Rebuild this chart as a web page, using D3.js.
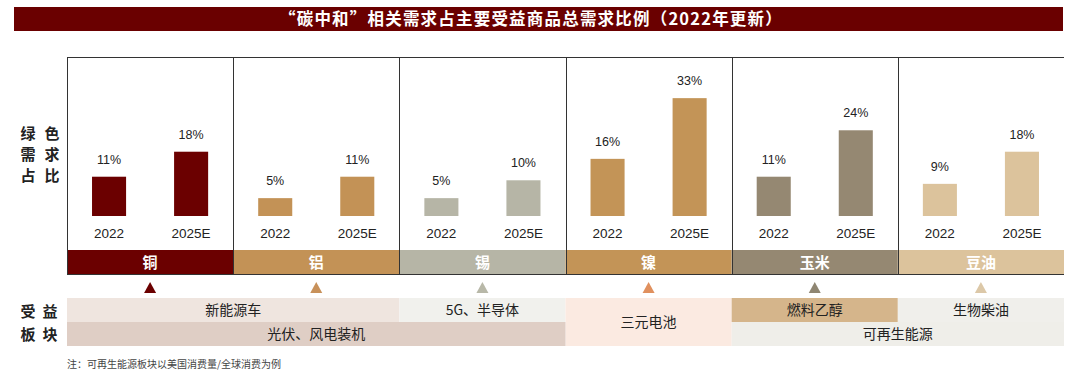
<!DOCTYPE html>
<html>
<head>
<meta charset="utf-8">
<script src="https://cdnjs.cloudflare.com/ajax/libs/d3/7.8.5/d3.min.js"></script>
<style>
  body { margin: 0; background: #fff; }
  text { font-family: "Noto Sans CJK SC", "Noto Sans", sans-serif; }
  .num { font-family: "Liberation Sans", Arial, sans-serif; }
</style>
</head>
<body>
<script>
// data
var commodities = ["铜", "铝", "锡", "镍", "玉米", "豆油"];
var years = ["2022", "2025E"];
var share2022 = [11, 5, 5, 16, 11, 9];
var share2025 = [18, 11, 10, 33, 24, 18];
var barColors = ["#6b0000", "#c39256", "#b6b5a6", "#c39457", "#958872", "#dcc39c"];
var arrowColors = ["#6b0000", "#c8915a", "#b8b8a8", "#e0905e", "#8f8672", "#dcc8a8"];
// sectors: label, first commodity, last commodity, row(s)
var sectorNames = ["新能源车", "5G、半导体", "三元电池", "燃料乙醇", "生物柴油", "光伏、风电装机", "可再生能源"];
var sectorFrom = ["铜", "锡", "镍", "玉米", "豆油", "铜", "玉米"];
var sectorTo = ["铝", "锡", "镍", "玉米", "豆油", "锡", "豆油"];
var sectorRowFrom = ["r1", "r1", "r1", "r1", "r1", "r2", "r2"];
var sectorRowTo = ["r1", "r1", "r2", "r1", "r1", "r2", "r2"];
var sectorFill = ["#efe5df", "#f1f1ed", "#fbeae1", "#d5b58b", "#f0efeb", "#dfcec5", "#efeee9"];

var W = 1080, H = 371;
var svg = d3.select("body").append("svg").attr("width", W).attr("height", H);

var x = d3.scaleBand().domain(commodities).range([67, 1064]);
var xi = d3.scaleBand().domain(years).range([0, x.bandwidth()]).paddingInner(0.585).paddingOuter(0.305);
var y = d3.scaleLinear().domain([0, 35]).range([216, 91]);
var rows = d3.scaleBand().domain(["r1", "r2"]).range([298, 346]);

// title bar
svg.append("rect").attr("x", 14).attr("y", 7).attr("width", 1049).attr("height", 24).attr("fill", "#6a0000");
svg.append("text").attr("x", 531).attr("y", 25).attr("text-anchor", "middle")
  .attr("fill", "#fff").attr("font-size", 16.5).attr("font-weight", 700).attr("letter-spacing", 1.2)
  .text("“碳中和”相关需求占主要受益商品总需求比例（2022年更新）");

// left labels
var leftA = [["绿", "色"], ["需", "求"], ["占", "比"]];
leftA.forEach(function (r, i) {
  r.forEach(function (c, j) {
    svg.append("text").attr("x", 28 + j * 24).attr("y", 139 + i * 21).attr("text-anchor", "middle")
      .attr("font-size", 15).attr("font-weight", 700).attr("fill", "#222").text(c);
  });
});
var leftB = [["受", "益"], ["板", "块"]];
leftB.forEach(function (r, i) {
  r.forEach(function (c, j) {
    svg.append("text").attr("x", 28 + j * 22).attr("y", 317 + i * 23).attr("text-anchor", "middle")
      .attr("font-size", 15).attr("font-weight", 700).attr("fill", "#222").text(c);
  });
});

// bars per commodity
var panel = svg.selectAll("g.panel").data(commodities).enter().append("g")
  .attr("class", "panel")
  .attr("transform", function (d) { return "translate(" + x(d) + ",0)"; });

panel.each(function (d, i) {
  var g = d3.select(this);
  var vals = [share2022[i], share2025[i]];
  years.forEach(function (yr, k) {
    g.append("rect").attr("x", xi(yr)).attr("width", xi.bandwidth())
      .attr("y", y(vals[k])).attr("height", y(0) - y(vals[k])).attr("fill", barColors[i]);
    g.append("text").attr("class", "num").attr("x", xi(yr) + xi.bandwidth() / 2).attr("y", y(vals[k]) - 13)
      .attr("text-anchor", "middle").attr("font-size", 12.5).attr("fill", "#222").text(vals[k] + "%");
    g.append("text").attr("class", "num").attr("x", xi(yr) + xi.bandwidth() / 2).attr("y", 238)
      .attr("text-anchor", "middle").attr("font-size", 13.5).attr("fill", "#222").text(yr);
  });
  // category strip
  g.append("rect").attr("x", 0).attr("y", 250).attr("width", x.bandwidth()).attr("height", 24).attr("fill", barColors[i]);
  g.append("text").attr("x", x.bandwidth() / 2).attr("y", 267.5).attr("text-anchor", "middle")
    .attr("font-size", 15).attr("font-weight", 700).attr("fill", "#fff").text(d);
  // arrow
  var cx = x.bandwidth() / 2;
  g.append("path").attr("d", "M" + (cx - 6) + ",293L" + (cx + 6) + ",293L" + cx + ",282Z").attr("fill", arrowColors[i]);
});

// frame lines
svg.append("line").attr("x1", 67).attr("x2", 1064).attr("y1", 57.5).attr("y2", 57.5).attr("stroke", "#333");
svg.append("line").attr("x1", 67).attr("x2", 1064).attr("y1", 274.5).attr("y2", 274.5).attr("stroke", "#333");
svg.selectAll("line.div").data(commodities).enter().append("line")
  .attr("class", "div")
  .attr("x1", function (d) { return Math.round(x(d)) + 0.5; })
  .attr("x2", function (d) { return Math.round(x(d)) + 0.5; })
  .attr("y1", 57).attr("y2", 275).attr("stroke", "#333");

// sectors
sectorNames.forEach(function (name, i) {
  var x0 = x(sectorFrom[i]), x1 = x(sectorTo[i]) + x.bandwidth();
  var y0 = rows(sectorRowFrom[i]), y1 = rows(sectorRowTo[i]) + rows.bandwidth();
  svg.append("rect").attr("x", x0).attr("y", y0).attr("width", x1 - x0).attr("height", y1 - y0).attr("fill", sectorFill[i]);
});
sectorNames.forEach(function (name, i) {
  var x0 = x(sectorFrom[i]), x1 = x(sectorTo[i]) + x.bandwidth();
  var y0 = rows(sectorRowFrom[i]), y1 = rows(sectorRowTo[i]) + rows.bandwidth();
  svg.append("text").attr("x", (x0 + x1) / 2).attr("y", (y0 + y1) / 2 + 5).attr("text-anchor", "middle")
    .attr("font-size", 14).attr("fill", "#222").text(name);
});

// footnote
svg.append("text").attr("x", 67).attr("y", 368).attr("font-size", 10).attr("fill", "#444")
  .text("注：可再生能源板块以美国消费量/全球消费为例");
</script>
</body>
</html>
